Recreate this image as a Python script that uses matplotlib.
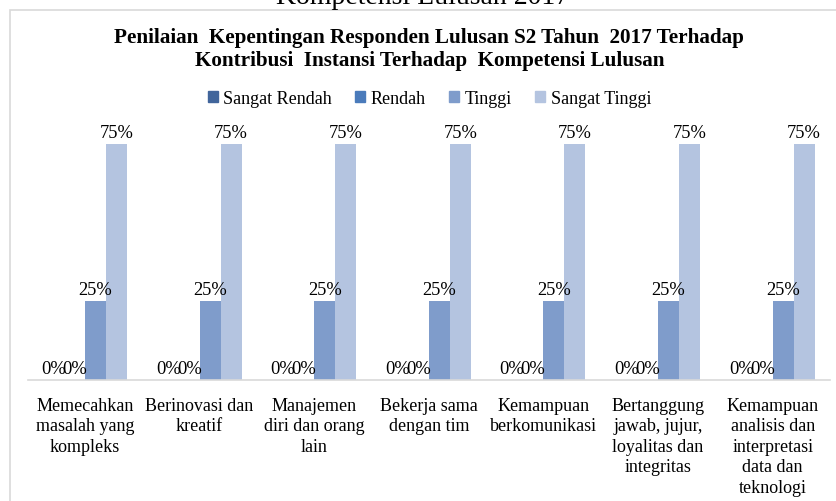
import matplotlib.pyplot as plt
import matplotlib.patches as mpatches
import numpy as np

plt.rcParams['font.family'] = ['Liberation Serif', 'DejaVu Serif']

# Data
categories = ['Memecahkan\nmasalah yang\nkompleks', 'Berinovasi dan\nkreatif',
              'Manajemen\ndiri dan orang\nlain', 'Bekerja sama\ndengan tim',
              'Kemampuan\nberkomunikasi',
              'Bertanggung\njawab, jujur,\nloyalitas dan\nintegritas',
              'Kemampuan\nanalisis dan\ninterpretasi\ndata dan\nteknologi']
series_names = ['Sangat Rendah', 'Rendah', 'Tinggi', 'Sangat Tinggi']
sangat_rendah = [0.0, 0.0, 0.0, 0.0, 0.0, 0.0, 0.0]
rendah = [0.0, 0.0, 0.0, 0.0, 0.0, 0.0, 0.0]
tinggi = [0.25, 0.25, 0.25, 0.25, 0.25, 0.25, 0.25]
sangat_tinggi = [0.75, 0.75, 0.75, 0.75, 0.75, 0.75, 0.75]
colors = ['#41659b', '#4a7bbb', '#7f9ccb', '#b4c4e0']

W, H = 837, 502
fig = plt.figure(figsize=(W / 100, H / 100), dpi=100)

# chart border (the chart is cropped on the right and bottom)
fig.patches.append(mpatches.Rectangle((10 / W, -0.1), 1.2, 1 - 10.5 / H + 0.1,
                                      transform=fig.transFigure, fill=False,
                                      edgecolor='#d9d9d9', linewidth=1.2))

# cropped heading above the chart
fig.text(0.505, 1 - 4 / H, 'Kompetensi Lulusan 2017', ha='center', va='baseline',
         fontsize=20)

fig.text(0.513, 1 - 37.5 / H, 'Penilaian  Kepentingan Responden Lulusan S2 Tahun  2017 Terhadap',
         ha='center', va='center', fontsize=15.2, fontweight='bold')
fig.text(0.513, 1 - 61 / H, 'Kontribusi  Instansi Terhadap  Kompetensi Lulusan',
         ha='center', va='center', fontsize=15.2, fontweight='bold')

ax = fig.add_axes([27.7 / W, (H - 381) / H, (830 - 27.7) / W, (381 - 129) / H])

x = np.arange(len(categories))
bw = 0.183
data = [sangat_rendah, rendah, tinggi, sangat_tinggi]
offsets = [-1.5, -0.5, 0.5, 1.5]
for vals, off, c, name in zip(data, offsets, colors, series_names):
    bars = ax.bar(x + off * bw, vals, bw, color=c, label=name)
    for b, v in zip(bars, vals):
        ax.annotate(f'{v:.0%}', (b.get_x() + b.get_width() / 2, v),
                    xytext=(0, 2), textcoords='offset points',
                    ha='center', va='bottom', fontsize=13.3)

ax.set_xlim(-0.5, len(categories) - 0.5)
ax.set_ylim(0, 0.8)
ax.set_yticks([])
ax.set_xticks(x)
ax.set_xticklabels(categories, fontsize=13, linespacing=1.27)
ax.tick_params(axis='x', length=0, pad=12)
for s in ['top', 'right', 'left']:
    ax.spines[s].set_visible(False)
ax.spines['bottom'].set_color('#d9d9d9')
ax.spines['bottom'].set_linewidth(1.2)

handles = [mpatches.Patch(color=c) for c in colors]
fig.legend(handles, series_names, loc='center', bbox_to_anchor=(0.513, 1 - 99 / H),
           ncol=4, frameon=False, fontsize=13, handlelength=0.55, handleheight=0.55,
           handletextpad=0.3, columnspacing=1.3)

fig.savefig('out.png', dpi=100)
